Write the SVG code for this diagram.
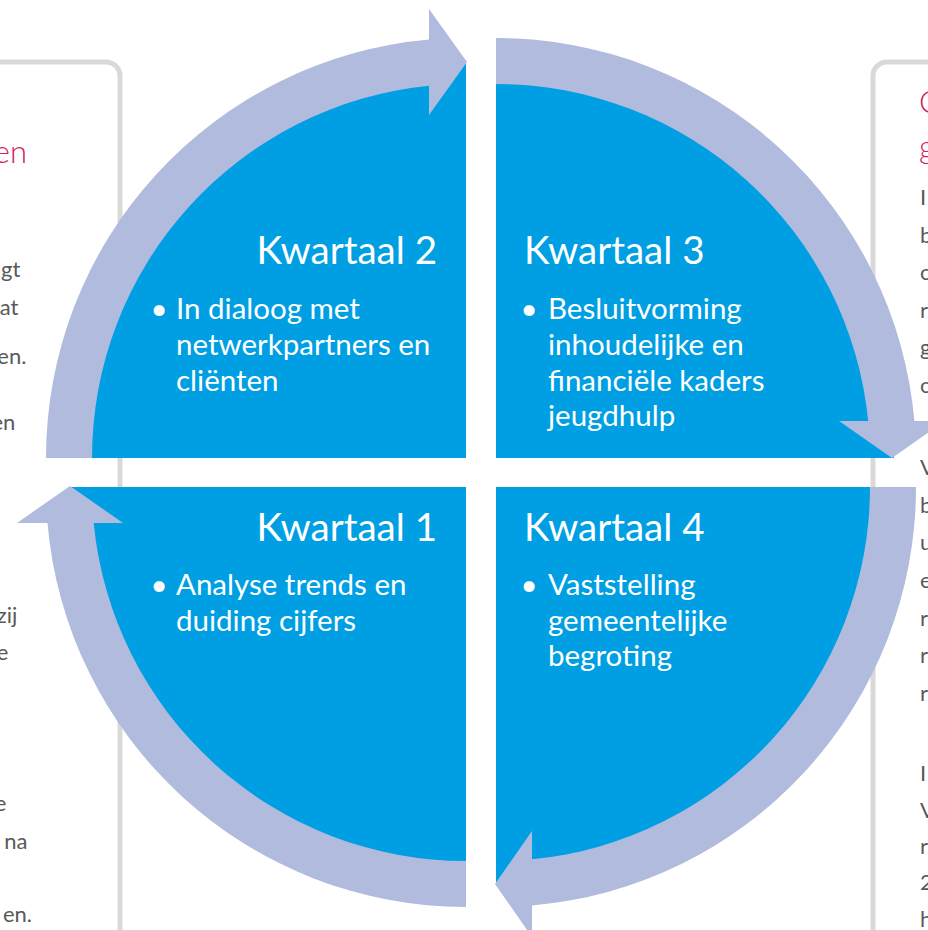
<svg xmlns="http://www.w3.org/2000/svg" width="928" height="930" viewBox="0 0 928 930">
<style>
.card{fill:#FFFFFF;stroke:#D9D9D9;stroke-width:5}
.sector{fill:#009FE3}
.band{fill:#B0BBDD}
.title{font-family:Lato,"Liberation Sans",sans-serif;font-size:38.5px;fill:#FFFFFF}
.body{font-family:Lato,"Liberation Sans",sans-serif;font-size:29.5px;fill:#FFFFFF}
.side{font-family:Lato,"Liberation Sans",sans-serif;font-size:22px;fill:#595959}
.head{font-family:Lato,"Liberation Sans",sans-serif;font-weight:300;font-size:31px;fill:#D41E5A}
</style>
<g id="left-card">
<rect class="card" x="-40" y="62" width="160" height="1000" rx="14"/>
<text class="head" x="27" y="163" text-anchor="end">en</text>
<text class="side" text-anchor="end">
<tspan x="26" y="277">gt</tspan>
<tspan x="24" y="315">at</tspan>
<tspan x="32" y="364">en.</tspan>
<tspan x="21" y="430">en</tspan>
<tspan x="23" y="623">zij</tspan>
<tspan x="14" y="660">e</tspan>
<tspan x="12" y="811">e</tspan>
<tspan x="33" y="849">na</tspan>
<tspan x="32" y="922">en.</tspan>
</text>
</g>
<g id="right-card">
<rect class="card" x="873" y="62" width="200" height="1000" rx="14"/>
<text class="head" x="919" y="113">C</text>
<text class="head" x="919" y="158">g</text>
<text class="side">
<tspan x="920" y="205">I</tspan>
<tspan x="920" y="243">b</tspan>
<tspan x="920" y="280">c</tspan>
<tspan x="920" y="318">r</tspan>
<tspan x="920" y="355">g</tspan>
<tspan x="920" y="393">c</tspan>
<tspan x="920" y="475">V</tspan>
<tspan x="920" y="513">b</tspan>
<tspan x="920" y="550">u</tspan>
<tspan x="920" y="588">e</tspan>
<tspan x="920" y="626">r</tspan>
<tspan x="920" y="663">r</tspan>
<tspan x="920" y="701">r</tspan>
<tspan x="920" y="781">I</tspan>
<tspan x="920" y="818">V</tspan>
<tspan x="920" y="854">r</tspan>
<tspan x="920" y="890">2</tspan>
<tspan x="920" y="927">h</tspan>
</text>
</g>
<g id="q2">
<path class="sector" d="M466,458 L68,458 A398,398 0 0 1 466,60 Z"/>
<text class="title" x="437" y="264" text-anchor="end">Kwartaal 2</text>
<text class="body" x="159" y="319" text-anchor="middle">•</text>
<text class="body"><tspan x="176" y="319">In dialoog met</tspan><tspan x="176" y="355">netwerkpartners en</tspan><tspan x="176" y="391">cliënten</tspan></text>
</g>
<g id="q3">
<path class="sector" d="M496,458 L496,60 A398,398 0 0 1 894,458 Z"/>
<text class="title" x="524" y="264">Kwartaal 3</text>
<text class="body" x="529" y="319" text-anchor="middle">•</text>
<text class="body"><tspan x="548" y="319">Besluitvorming</tspan><tspan x="548" y="355">inhoudelijke en</tspan><tspan x="548" y="391">financiële kaders</tspan><tspan x="548" y="426">jeugdhulp</tspan></text>
</g>
<g id="q4">
<path class="sector" d="M496,487 L894,487 A398,398 0 0 1 496,885 Z"/>
<text class="title" x="524" y="541">Kwartaal 4</text>
<text class="body" x="529" y="595" text-anchor="middle">•</text>
<text class="body"><tspan x="548" y="595">Vaststelling</tspan><tspan x="548" y="631">gemeentelijke</tspan><tspan x="548" y="666">begroting</tspan></text>
</g>
<g id="q1">
<path class="sector" d="M466,487 L466,885 A398,398 0 0 1 68,487 Z"/>
<text class="title" x="437" y="541" text-anchor="end">Kwartaal 1</text>
<text class="body" x="159" y="595" text-anchor="middle">•</text>
<text class="body"><tspan x="176" y="595">Analyse trends en</tspan><tspan x="176" y="631">duiding cijfers</tspan></text>
</g>
<g id="connectors">
<path class="band" d="M46,458 A420,420 0 0 1 429,39.6 L429,9 L467,62 L429,115 L429,85.8 A374,374 0 0 0 92,458 Z"/>
<path class="band" d="M496,38 A420,420 0 0 1 914.4,421 L945,421 L892,458 L839,421 L868.2,421 A374,374 0 0 0 496,84 Z"/>
<path class="band" d="M916,487 A420,420 0 0 1 532,905.5 L532,937 L495,884 L532,831 L532,859.3 A374,374 0 0 0 870,487 Z"/>
<path class="band" d="M466,907 A420,420 0 0 1 47.5,523 L17,523 L70,486 L123,523 L93.7,523 A374,374 0 0 0 466,861 Z"/>
</g>
</svg>
